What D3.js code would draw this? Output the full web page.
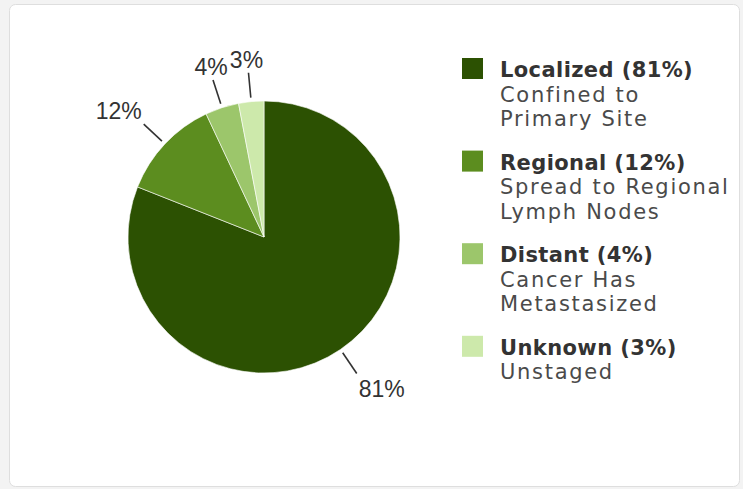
<!DOCTYPE html>
<html>
<head>
<meta charset="utf-8">
<script src="https://cdn.jsdelivr.net/npm/d3@7"></script>
<style>
  html, body { margin: 0; padding: 0; background: #f3f3f3; }
  svg { display: block; }
</style>
</head>
<body>
<svg id="chart" width="743" height="489"></svg>
<script>
// Stage at diagnosis
const categories = ["Localized", "Regional", "Distant", "Unknown"];
const shares = [81, 12, 4, 3];
const descriptions = [
  ["Confined to", "Primary Site"],
  ["Spread to Regional", "Lymph Nodes"],
  ["Cancer Has", "Metastasized"],
  ["Unstaged"]
];
const colors = ["#2c5102", "#5c8d1f", "#9cc66b", "#cde9ab"];

const width = 743, height = 489;
const svg = d3.select("#chart");

// card panel
svg.append("rect")
  .attr("x", 9.5).attr("y", 4.5)
  .attr("width", 730).attr("height", 482)
  .attr("rx", 6)
  .attr("fill", "#fff")
  .attr("stroke", "#dedede");

// pie
const cx = 264, cy = 237, radius = 136;
const pie = d3.pie().sort(null).value(d => d)(shares);
const arc = d3.arc().innerRadius(0).outerRadius(radius);

const g = svg.append("g").attr("transform", `translate(${cx},${cy})`);
g.selectAll("path.slice")
  .data(pie)
  .join("path")
  .attr("class", "slice")
  .attr("d", arc)
  .attr("fill", (d, i) => colors[i])
  .attr("stroke", "#fff")
  .attr("stroke-width", 0.6);

// data labels with short radial connectors
const lineInner = radius + 4, lineOuter = radius + 29;
pie.forEach((d, i) => {
  const a = (d.startAngle + d.endAngle) / 2;
  const sx = Math.sin(a), sy = -Math.cos(a);
  const x1 = sx * lineInner, y1 = sy * lineInner;
  const x2 = sx * lineOuter, y2 = sy * lineOuter;
  g.append("line")
    .attr("x1", x1).attr("y1", y1)
    .attr("x2", x2).attr("y2", y2)
    .attr("stroke", "#333")
    .attr("stroke-width", 1.6);

  const t = g.append("text")
    .text(d.data + "%")
    .attr("font-family", "'Liberation Sans Narrow', 'Liberation Sans', Arial, sans-serif")
    .attr("font-size", 23)
    .attr("fill", "#333");
  if (Math.abs(sx) > 0.5) {
    t.attr("text-anchor", sx > 0 ? "start" : "end")
     .attr("x", x2 + (sx > 0 ? 2 : -2))
     .attr("y", sy > 0 ? y2 + 24 : y2 - 5);
  } else {
    t.attr("text-anchor", "middle")
     .attr("x", x2 + (sx < 0 ? -2 : 2))
     .attr("y", sy < 0 ? y2 - 5 : y2 + 24);
  }
});

// legend
const legendX = 462, textX = 500, firstBaseline = 77, groupPitch = 92.6, lineStep = 24.5;
const legend = svg.append("g");
categories.forEach((name, i) => {
  const base = firstBaseline + i * groupPitch;
  legend.append("rect")
    .attr("x", legendX).attr("y", base - 19)
    .attr("width", 21).attr("height", 21)
    .attr("fill", colors[i]);
  legend.append("text")
    .attr("x", textX).attr("y", base)
    .attr("font-family", "'DejaVu Sans', Verdana, sans-serif")
    .attr("font-weight", "bold")
    .attr("font-size", 21)
    .attr("letter-spacing", 0.4)
    .attr("fill", "#333")
    .text(`${name} (${shares[i]}%)`);
  descriptions[i].forEach((line, j) => {
    legend.append("text")
      .attr("x", textX).attr("y", base + (j + 1) * lineStep)
      .attr("font-family", "'DejaVu Sans', Verdana, sans-serif")
      .attr("font-size", 21)
      .attr("letter-spacing", 1.7)
      .attr("fill", "#4a4a4a")
      .text(line);
  });
});
</script>
</body>
</html>
